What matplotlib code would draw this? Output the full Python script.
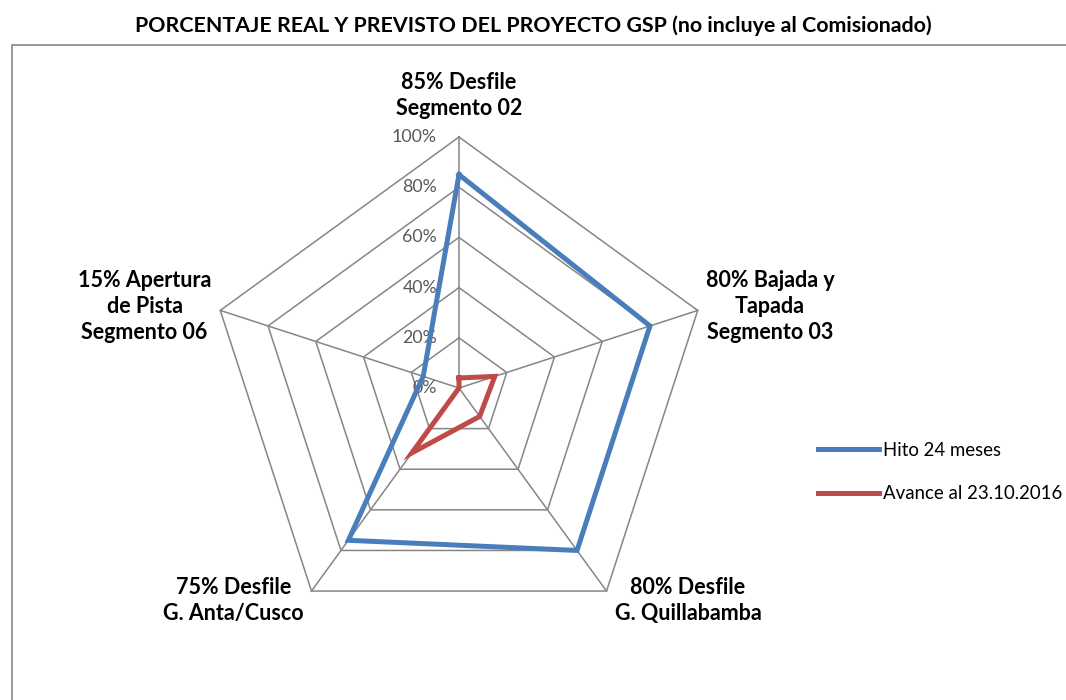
import numpy as np
import matplotlib
matplotlib.use('Agg')
import matplotlib.pyplot as plt
from matplotlib.patches import Rectangle

# chart data
categories = ['85% Desfile\nSegmento 02',
              '80% Bajada y\nTapada\nSegmento 03',
              '80% Desfile\nG. Quillabamba',
              '75% Desfile\nG. Anta/Cusco',
              '15% Apertura\nde Pista\nSegmento 06']
hito = [85, 80, 80, 75, 15]
avance = [4, 15, 14, 32, 0]
ticks = [0, 20, 40, 60, 80, 100]
tick_labels = ['0%', '20%', '40%', '60%', '80%', '100%']
series_names = ['Hito 24 meses', 'Avance al 23.10.2016']

plt.rcParams['font.family'] = ['Lato', 'DejaVu Sans']

W, H = 1066, 700
fig = plt.figure(figsize=(W / 100, H / 100), dpi=100)
ax = fig.add_axes([0, 0, 1, 1])
ax.axis('off')

# pixel geometry of the radar: centre and radius of the 100% ring
cx, cy, R = 459, 388, 251
scale = 100 / R
ax.set_xlim(-cx * scale, (W - cx) * scale)
ax.set_ylim(-(H - cy) * scale, cy * scale)

n = len(categories)
angles = np.pi / 2 - 2 * np.pi * np.arange(n) / n


def xy(vals):
    vals = np.asarray(vals, dtype=float)
    x = vals * np.cos(angles)
    y = vals * np.sin(angles)
    return np.append(x, x[0]), np.append(y, y[0])


grid_col = '#868686'
for t in ticks[1:]:
    gx, gy = xy([t] * n)
    ax.plot(gx, gy, color=grid_col, lw=1.1, zorder=1)
for a in angles:
    ax.plot([0, 100 * np.cos(a)], [0, 100 * np.sin(a)], color=grid_col, lw=1.1, zorder=1)

for t, lab in zip(ticks, tick_labels):
    ax.text(-22 * scale, t, lab, ha='right', va='center', fontsize=12.8,
            color='#595959', zorder=2)

bx, by = xy(hito)
ax.plot(bx, by, color='#4A7EBB', lw=3.6, solid_joinstyle='miter', zorder=3,
        label=series_names[0])
rx, ry = xy(avance)
ax.plot(rx, ry, color='#BE4B48', lw=3.6, solid_joinstyle='miter', zorder=3,
        label=series_names[1])

# category labels around the outer ring
offsets = [(0, 18, 'center', 'bottom'),
           (8, 4, 'left', 'center'),
           (8, -9, 'left', 'center'),
           (-8, -9, 'right', 'center'),
           (-9, 4, 'right', 'center')]
for a, lab, (dx, dy, ha, va) in zip(angles, categories, offsets):
    ax.text(100 * np.cos(a) + dx * scale, 100 * np.sin(a) + dy * scale, lab,
            ha=ha, va=va, ma='center', fontsize=15.5, fontweight='bold',
            linespacing=1.3, color='black')

fig.text(0.5, 1 - 26 / H, 'PORCENTAJE REAL Y PREVISTO DEL PROYECTO GSP (no incluye al Comisionado)',
         ha='center', va='center', fontsize=15.4, fontweight='bold')

fig.patches.append(Rectangle((12 / W, -0.1), 1.2, 1.1 - 45 / H,
                             transform=fig.transFigure, fill=False,
                             edgecolor='#868686', lw=1.2))

ax.legend(loc='center left', bbox_to_anchor=(818 / W, 1 - 472 / H),
          bbox_transform=fig.transFigure, frameon=False, fontsize=13.4,
          handlelength=3.3, handletextpad=0.2, labelspacing=1.4,
          borderpad=0, borderaxespad=0)

fig.savefig('out.png', dpi=100)
